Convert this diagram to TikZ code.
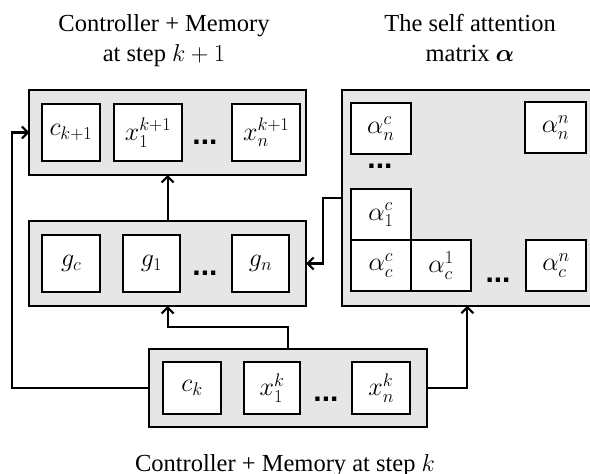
\RequirePackage{fix-cm}
\documentclass[tikz,border=0pt]{standalone}
\usepackage{amsmath,bm}
\usepackage{fontspec}
\setmainfont{Liberation Serif}
\newfontfamily\dotfont{Liberation Sans}
\usetikzlibrary{arrows.meta}
\definecolor{boxgray}{RGB}{231,230,230}
\begin{document}
\begin{tikzpicture}[x=1pt,y=-1pt,
  every node/.style={inner sep=0pt, outer sep=0pt},
  lw/.style={line width=2.1pt},
  outerbox/.style={draw, lw, fill=boxgray},
  cell/.style={draw, lw, fill=white, font=\fontsize{26}{30}\selectfont},
  dotsnode/.style={font=\dotfont\bfseries\fontsize{30}{30}\selectfont, anchor=base},
  titletext/.style={font=\fontsize{24.5}{30}\selectfont, align=center, anchor=base},
  conn/.style={lw, -{Straight Barb[length=6pt,width=12pt]}, line join=miter},
]
\useasboundingbox (0,0) rectangle (590,474);

% titles
\node[titletext] (t1) at (164,61.5) {Controller + Memory\\at step $k+1$};
\node[titletext] (t2) at (470,61) {The self attention\\matrix $\bm{\alpha}$};
\node[titletext] (t3) at (285,471.5) {Controller + Memory at step $k$};

% top box (step k+1)
\node[outerbox, minimum width=276.7pt, minimum height=85pt] (tb) at (167.7,132.5) {};
\node[cell, minimum width=58.3pt, minimum height=57pt] (ck1) at (70.9,132.5) {$c_{k+1}$};
\node[cell, minimum width=67.4pt, minimum height=57pt] (x1k1) at (148,132.5) {$x_1^{k+1}$};
\node[cell, minimum width=67.7pt, minimum height=57pt] (xnk1) at (266.2,132.5) {$x_n^{k+1}$};
\node[dotsnode] (d1) at (205,144) {...};

% middle box (gates)
\node[outerbox, minimum width=276.7pt, minimum height=85pt] (mb) at (167.7,263.5) {};
\node[cell, minimum width=57.7pt, minimum height=57pt] (gc) at (71.2,263.5) {$g_c$};
\node[cell, minimum width=57.3pt, minimum height=57pt] (g1) at (151.4,263.5) {$g_1$};
\node[cell, minimum width=57.6pt, minimum height=57pt] (gn) at (260.5,263.5) {$g_n$};
\node[dotsnode] (d2) at (205,275.3) {...};

% bottom box (step k)
\node[outerbox, minimum width=277.4pt, minimum height=78.3pt] (bb) at (288,388.2) {};
\node[cell, minimum width=57.4pt, minimum height=52.3pt] (ck) at (192,387.9) {$c_k$};
\node[cell, minimum width=56pt, minimum height=52.3pt] (x1k) at (272,387.9) {$x_1^k$};
\node[cell, minimum width=57.7pt, minimum height=52.3pt] (xnk) at (381.2,387.9) {$x_n^k$};
\node[dotsnode] (d3) at (326,401) {...};

% right box (attention matrix)
\node[outerbox, minimum width=256.3pt, minimum height=215.7pt] (rb) at (469.9,197.9) {};
\node[cell, minimum width=60.3pt, minimum height=51.3pt] (anc) at (380.9,128.4) {$\alpha_n^c$};
\node[cell, minimum width=61pt, minimum height=51pt] (ann) at (555.5,127.2) {$\alpha_n^n$};
\node[dotsnode] (d4) at (380,168.7) {...};
\node[cell, minimum width=60.3pt, minimum height=50.7pt] (a1c) at (380.9,214.7) {$\alpha_1^c$};
\node[cell, minimum width=60.3pt, minimum height=50.7pt] (acc) at (380.9,265.4) {$\alpha_c^c$};
\node[cell, minimum width=60pt, minimum height=50.7pt] (ac1) at (441,265.4) {$\alpha_c^1$};
\node[dotsnode] (d5) at (498,282) {...};
\node[cell, minimum width=60pt, minimum height=50.7pt] (acn) at (556,265.4) {$\alpha_c^n$};

% routing coordinates
\coordinate (L) at (12.3,0);
\coordinate (M) at (0,327.3);
\coordinate (R) at (467.3,0);
\coordinate (C) at (323.3,0);

% connectors
\draw[conn] (bb.west) -- (bb.west -| L) -- (tb.west -| L) -- (tb.west);
\draw[conn] (bb.north) -- (bb.north |- M) -- (mb.south |- M) -- (mb.south);
\draw[conn] (mb.north) -- (tb.south);
\draw[conn] (bb.east) -- (bb.east -| R) -- (rb.south -| R);
\draw[conn] (rb.west) -- (rb.west -| C) -- (mb.east -| C) -- (mb.east);
\end{tikzpicture}
\end{document}
